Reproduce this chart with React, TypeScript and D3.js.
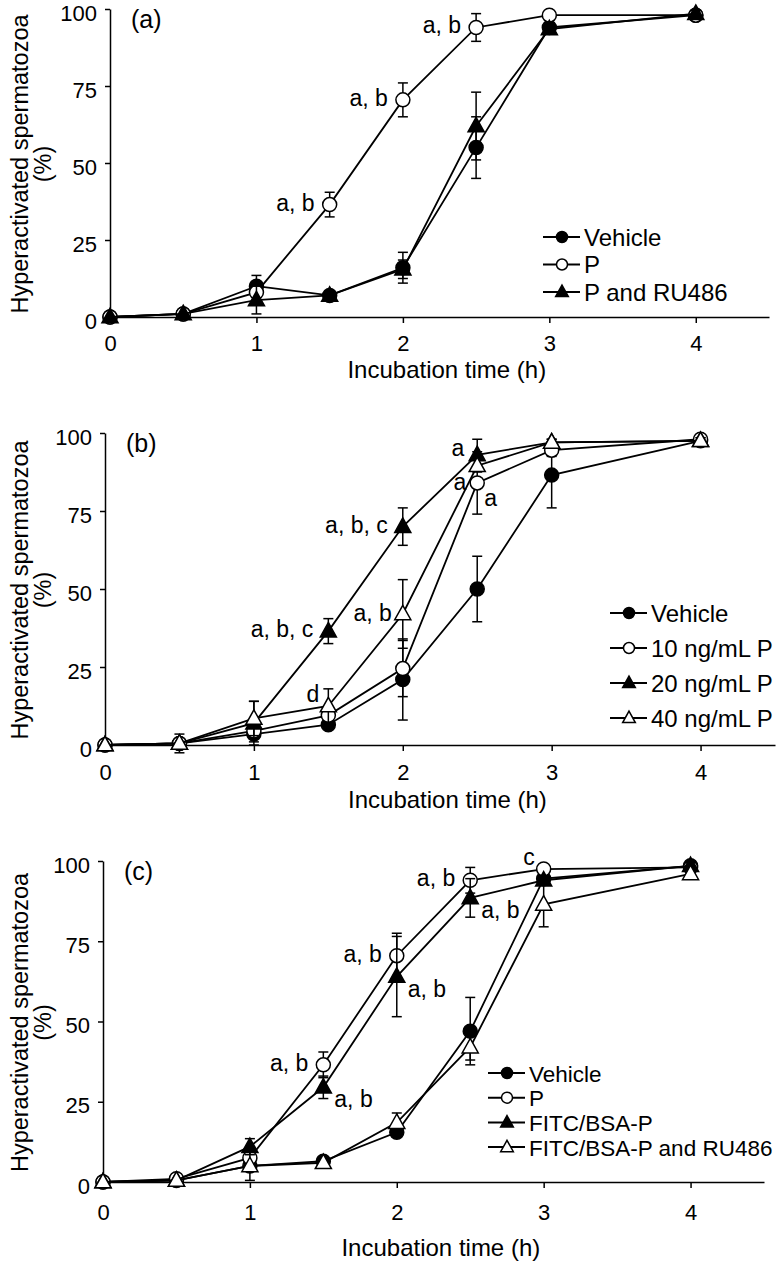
import { useEffect, useRef } from 'react'
import * as d3 from 'd3'

const FONT = '"Liberation Sans", Arial, Helvetica, sans-serif'

// incubation times (h)
const times = [0, 0.5, 1, 1.5, 2, 2.5, 3, 4]
const xTicks = [0, 1, 2, 3, 4]
const yTicks = [0, 25, 50, 75, 100]

// panel (a)
const aVehicle = [0, 1, 10, 7, 16, 55, 94, 98]
const aVehicleErr = [0, 0, 3.5, 1, 5, 10, 1, 1]
const aP = [0, 1, 8, 36.5, 70.5, 94, 98, 98]
const aPErr = [0, 0, 0, 4, 5.5, 4.5, 0.5, 1]
const aPRU = [0, 1, 5.5, 7, 15.5, 62, 93.5, 98.5]
const aPRUErr = [0, 0, 4.5, 1, 3, 11, 1, 1]

// panel (b)
const bVehicle = [0, 0.5, 3.5, 6.5, 21, 50, 86.5, 97.5]
const bVehicleErr = [0, 0, 2.5, 1, 13, 10.5, 10.5, 1]
const b10 = [0, 0.5, 4.5, 9.5, 24.5, 84, 94.5, 98]
const b10Err = [0, 0, 1, 1, 9, 10, 2, 1]
const b20 = [0, 0.5, 7, 36.5, 70, 93, 97, 97.5]
const b20Err = [0, 0, 7, 4, 6, 5, 1, 1]
const b40 = [0, 0.5, 8.5, 12.5, 42, 89.5, 97, 97.5]
const b40Err = [0, 3, 5.5, 5.5, 11, 2, 1, 1]

// panel (c)
const cVehicle = [0, 0.5, 5, 6.5, 15.5, 47, 94.5, 98.5]
const cVehicleErr = [0, 0, 1, 1, 1, 10.5, 1, 1]
const cP = [0, 1, 7.5, 36.5, 70.5, 94, 97.5, 98]
const cPErr = [0, 0, 1, 4, 7, 4, 1, 1]
const cFITC = [0, 0.5, 11, 29.5, 64, 88.5, 94, 98.5]
const cFITCErr = [0, 0, 2.5, 3.5, 12.5, 6, 1, 1]
const cFITCRU = [0, 0.5, 5, 6, 18.5, 42, 86.5, 96]
const cFITCRUErr = [0, 0, 4.5, 1, 3, 4, 7, 1]

const panels = [
  {
    label: '(a)',
    series: [
      { name: 'Vehicle', marker: 'circle', filled: true, values: aVehicle, err: aVehicleErr },
      { name: 'P', marker: 'circle', filled: false, values: aP, err: aPErr },
      { name: 'P and RU486', marker: 'triangle', filled: true, values: aPRU, err: aPRUErr },
    ],
    notes: [
      { s: 1, t: 1.5, text: 'a, b', pos: 'left' },
      { s: 1, t: 2, text: 'a, b', pos: 'left' },
      { s: 1, t: 2.5, text: 'a, b', pos: 'left' },
    ],
  },
  {
    label: '(b)',
    series: [
      { name: 'Vehicle', marker: 'circle', filled: true, values: bVehicle, err: bVehicleErr },
      { name: '10 ng/mL P', marker: 'circle', filled: false, values: b10, err: b10Err },
      { name: '20 ng/mL P', marker: 'triangle', filled: true, values: b20, err: b20Err },
      { name: '40 ng/mL P', marker: 'triangle', filled: false, values: b40, err: b40Err },
    ],
    notes: [
      { s: 2, t: 1.5, text: 'a, b, c', pos: 'left' },
      { s: 2, t: 2, text: 'a, b, c', pos: 'left' },
      { s: 3, t: 1.5, text: 'd', pos: 'upLeft' },
      { s: 3, t: 2, text: 'a, b', pos: 'leftTight' },
      { s: 2, t: 2.5, text: 'a', pos: 'leftHigh' },
      { s: 1, t: 2.5, text: 'a', pos: 'leftTight' },
      { s: 1, t: 2.5, text: 'a', pos: 'downRightNear' },
    ],
  },
  {
    label: '(c)',
    series: [
      { name: 'Vehicle', marker: 'circle', filled: true, values: cVehicle, err: cVehicleErr },
      { name: 'P', marker: 'circle', filled: false, values: cP, err: cPErr },
      { name: 'FITC/BSA-P', marker: 'triangle', filled: true, values: cFITC, err: cFITCErr },
      { name: 'FITC/BSA-P and RU486', marker: 'triangle', filled: false, values: cFITCRU, err: cFITCRUErr },
    ],
    notes: [
      { s: 1, t: 1.5, text: 'a, b', pos: 'left' },
      { s: 2, t: 1.5, text: 'a, b', pos: 'downRight' },
      { s: 1, t: 2, text: 'a, b', pos: 'left' },
      { s: 2, t: 2, text: 'a, b', pos: 'downRight' },
      { s: 1, t: 2.5, text: 'a, b', pos: 'left' },
      { s: 2, t: 2.5, text: 'a, b', pos: 'downRight' },
      { s: 1, t: 3, text: 'c', pos: 'upLeft' },
    ],
  },
]

// pixel layout of each panel
const LAYOUT = [
  { x0: 110, x1: 769, yTop: 9, yBottom: 317, tickPad: 12, titleDy: 61, legendX: 543, legendY: 237, legendGap: 27.5, legendFont: 24 },
  { x0: 105, x1: 775, yTop: 433, yBottom: 745, tickPad: 13, titleDy: 63, legendX: 610, legendY: 613, legendGap: 35, legendFont: 24 },
  { x0: 103, x1: 764, yTop: 861, yBottom: 1182, tickPad: 16, titleDy: 74, legendX: 488, legendY: 1073, legendGap: 24.7, legendFont: 22.5 },
]

const NOTE_OFFSET = {
  left: [-15, 6],
  leftTight: [-11, 7],
  leftHigh: [-13, 1],
  upLeft: [-9, -4],
  downRight: [11, 20],
  downRightNear: [7, 23],
}

function drawMarker(g, type, filled, x, y, size) {
  if (type === 'circle') {
    g.append('circle')
      .attr('cx', x).attr('cy', y).attr('r', size)
      .attr('fill', filled ? '#000' : '#fff')
      .attr('stroke', '#000').attr('stroke-width', 1.5)
  } else {
    const s = size * 2.3
    const h = s * 0.9
    g.append('path')
      .attr('d', `M${x},${y - h * 0.6}L${x + s / 2},${y + h * 0.4}L${x - s / 2},${y + h * 0.4}Z`)
      .attr('fill', filled ? '#000' : '#fff')
      .attr('stroke', '#000').attr('stroke-width', 1.5)
      .attr('stroke-linejoin', 'miter')
  }
}

export default function App() {
  const svgRef = useRef(null)

  useEffect(() => {
    const el = svgRef.current
    const svg = d3.select(el)
    svg.selectAll('*').remove()

    panels.forEach((panel, pi) => {
      const L = LAYOUT[pi]
      const x = d3.scaleLinear().domain([0, 4.5]).range([L.x0, L.x1])
      const y = d3.scaleLinear().domain([0, 100]).range([L.yBottom, L.yTop])
      const g = svg.append('g')

      // axes
      g.append('g')
        .attr('transform', `translate(0,${L.yBottom})`)
        .call(d3.axisBottom(x).tickValues(xTicks).tickFormat(d3.format('d')).tickSize(6).tickSizeOuter(0).tickPadding(L.tickPad))
        .call(a => {
          a.select('.domain').attr('stroke', '#000').attr('stroke-width', 1.5)
          a.selectAll('line').attr('stroke', '#000').attr('stroke-width', 1.5)
          a.selectAll('text').attr('fill', '#000').attr('font-size', '22px').attr('font-family', FONT)
        })

      g.append('g')
        .attr('transform', `translate(${L.x0},0)`)
        .call(d3.axisLeft(y).tickValues(yTicks).tickSize(5).tickSizeOuter(0).tickPadding(8))
        .call(a => {
          a.select('.domain').attr('stroke', '#000').attr('stroke-width', 1.5)
          a.selectAll('line').attr('stroke', '#000').attr('stroke-width', 1.5)
          a.selectAll('text').attr('fill', '#000').attr('font-size', '22px').attr('font-family', FONT).attr('dy', '0.5em')
        })

      // axis titles
      const cy = (L.yTop + L.yBottom) / 2 + 1
      g.append('text')
        .attr('transform', `translate(28,${cy}) rotate(-90)`)
        .attr('text-anchor', 'middle')
        .attr('font-size', '23.5px').attr('font-family', FONT)
        .text('Hyperactivated spermatozoa')
      g.append('text')
        .attr('transform', `translate(51,${cy}) rotate(-90)`)
        .attr('text-anchor', 'middle')
        .attr('font-size', '23.5px').attr('font-family', FONT)
        .text('(%)')
      g.append('text')
        .attr('x', x(2.3))
        .attr('y', L.yBottom + L.titleDy)
        .attr('text-anchor', 'middle')
        .attr('font-size', '24px').attr('font-family', FONT)
        .text('Incubation time (h)')

      // panel label
      g.append('text')
        .attr('x', L.x0 + 21)
        .attr('y', L.yTop + 19)
        .attr('font-size', '25px').attr('font-family', FONT)
        .text(panel.label)

      const line = d3.line()
        .x((d, i) => x(times[i]))
        .y(d => y(d))

      panel.series.forEach(s => {
        g.append('path')
          .datum(s.values)
          .attr('fill', 'none')
          .attr('stroke', '#000')
          .attr('stroke-width', 1.8)
          .attr('d', line)

        s.values.forEach((v, i) => {
          const e = s.err[i]
          if (!e) return
          const cx = x(times[i])
          const eg = g.append('g').attr('stroke', '#000').attr('stroke-width', 1.5)
          eg.append('line').attr('x1', cx).attr('x2', cx).attr('y1', y(v - e)).attr('y2', y(v + e))
          eg.append('line').attr('x1', cx - 5).attr('x2', cx + 5).attr('y1', y(v - e)).attr('y2', y(v - e))
          eg.append('line').attr('x1', cx - 5).attr('x2', cx + 5).attr('y1', y(v + e)).attr('y2', y(v + e))
        })

        s.values.forEach((v, i) => {
          drawMarker(g, s.marker, s.filled, x(times[i]), y(v), 7)
        })
      })

      // significance letters
      panel.notes.forEach(n => {
        const s = panel.series[n.s]
        const i = times.indexOf(n.t)
        const [dx, dy] = NOTE_OFFSET[n.pos]
        g.append('text')
          .attr('x', x(n.t) + dx)
          .attr('y', y(s.values[i]) + dy)
          .attr('text-anchor', dx < 0 ? 'end' : 'start')
          .attr('font-size', '23px').attr('font-family', FONT)
          .text(n.text)
      })

      // legend
      panel.series.forEach((s, i) => {
        const ly = L.legendY + i * L.legendGap
        g.append('line')
          .attr('x1', L.legendX).attr('x2', L.legendX + 37)
          .attr('y1', ly).attr('y2', ly)
          .attr('stroke', '#000').attr('stroke-width', 2)
        drawMarker(g, s.marker, s.filled, L.legendX + 19, ly, 5.5)
        g.append('text')
          .attr('x', L.legendX + 41)
          .attr('y', ly + 8.5)
          .attr('font-size', `${L.legendFont}px`).attr('font-family', FONT)
          .text(s.name)
      })
    })
  }, [])

  return (
    <svg
      ref={svgRef}
      width={780}
      height={1261}
      style={{ position: 'absolute', left: 0, top: 0, background: '#fff', display: 'block' }}
    />
  )
}
